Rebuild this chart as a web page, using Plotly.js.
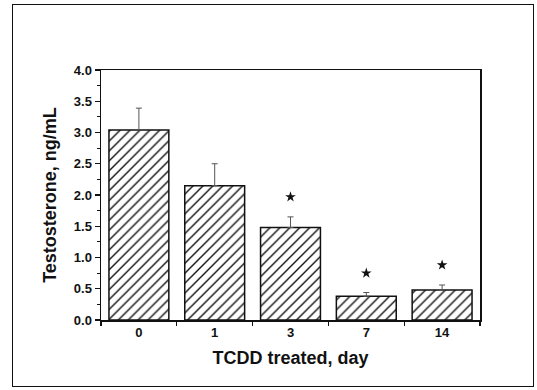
<!DOCTYPE html>
<html><head><meta charset="utf-8">
<script src="https://cdn.plot.ly/plotly-3.0.1.min.js"></script>
<style>
html,body{margin:0;padding:0;background:#fff;}
#wrap{position:relative;width:537px;height:390px;overflow:hidden;}
#chart{position:absolute;left:0;top:0;width:537px;height:390px;}
#frame{position:absolute;left:12px;top:4px;width:522px;height:383px;border:1.5px solid #111;box-sizing:border-box;pointer-events:none;}
</style></head><body>
<div id="wrap"><div id="chart"></div><div id="frame"></div></div>
<script>
const days = ['0', '1', '3', '7', '14'];
const testosterone = [3.04, 2.15, 1.48, 0.38, 0.48];
const sem = [0.35, 0.35, 0.17, 0.06, 0.08];
const starDays = ['3', '7', '14'];
const starLevels = [1.97, 0.75, 0.88];

const font = 'Arial, "Liberation Sans", Helvetica, sans-serif';

const bars = {
  type: 'bar',
  x: days,
  y: testosterone,
  width: 0.79,
  marker: {
    color: 'white',
    line: {color: '#111', width: 1.5},
    pattern: {shape: '/', size: 7, solidity: 0.2, fgcolor: '#111', bgcolor: 'white'}
  },
  error_y: {
    type: 'data', symmetric: false, array: sem, arrayminus: sem.map(() => 0),
    color: '#555', thickness: 1, width: 3
  },
  hoverinfo: 'none'
};

const stars = {
  type: 'scatter',
  mode: 'markers',
  x: starDays,
  y: starLevels,
  marker: {symbol: 'star', size: 8, color: '#111', line: {width: 0}},
  hoverinfo: 'none'
};

const layout = {
  width: 537, height: 390,
  margin: {l: 101, r: 57, t: 70, b: 70},
  paper_bgcolor: 'white', plot_bgcolor: 'white',
  showlegend: false,
  font: {family: font, color: '#111'},
  xaxis: {
    type: 'category',
    categoryorder: 'array', categoryarray: days,
    range: [-0.5, 4.5],
    tickson: 'boundaries',
    ticks: 'outside', ticklen: 4, tickwidth: 1.2, tickcolor: '#111',
    showline: true, linecolor: '#111', linewidth: 1.5, mirror: true,
    showgrid: false, zeroline: false,
    tickfont: {family: font, size: 13, weight: 'bold', color: '#111'},
    title: {text: 'TCDD treated, day', font: {family: font, size: 18, weight: 'bold', color: '#111'}, standoff: 12}
  },
  yaxis: {
    range: [0, 4],
    dtick: 0.5, tickformat: '.1f',
    ticks: 'outside', ticklen: 5, tickwidth: 1.2, tickcolor: '#111',
    minor: {dtick: 0.25, ticks: 'outside', ticklen: 3, tickcolor: '#111', showgrid: false},
    showline: true, linecolor: '#111', linewidth: 1.5, mirror: true,
    showgrid: false, zeroline: false,
    tickfont: {family: font, size: 13, weight: 'bold', color: '#111'},
    title: {text: 'Testosterone, ng/mL', font: {family: font, size: 18, weight: 'bold', color: '#111'}, standoff: 12}
  }
};

Plotly.newPlot('chart', [bars, stars], layout, {staticPlot: true, displayModeBar: false});
</script>
</body></html>
